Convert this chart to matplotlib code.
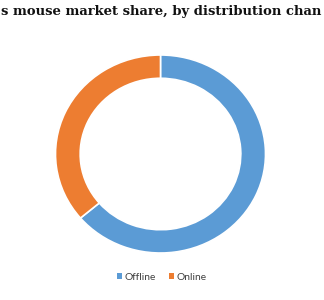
import matplotlib
matplotlib.use("Agg")
import matplotlib.pyplot as plt
from matplotlib.patches import Patch

categories = ["Offline", "Online"]
shares = [63.8, 36.2]
colors = ["#5B9BD5", "#ED7D31"]
title = "s mouse market share, by distribution chan"

W, H = 324, 300
fig = plt.figure(figsize=(W / 100, H / 100), dpi=100)

# donut axes (slightly wider than tall, as in the reference)
x0, x1 = 55.5, 265.5
ytop, ybot = 55, 253
ax = fig.add_axes([x0 / W, (H - ybot) / H, (x1 - x0) / W, (ybot - ytop) / H])
ax.pie(shares, colors=colors, startangle=90, counterclock=False, radius=1.0,
       wedgeprops=dict(width=0.235, edgecolor="white", linewidth=1.2))
ax.set_aspect("auto")
ax.set_xlim(-1, 1)
ax.set_ylim(-1, 1)
ax.axis("off")

# title: fit the visible title text to the figure width
fig.canvas.draw()
r = fig.canvas.get_renderer()
tfont = dict(family="DejaVu Serif", weight="heavy", color="#111111")
tmp = fig.text(0, 0, title, size=10, **tfont)
w10 = tmp.get_window_extent(r).width
tmp.remove()
tsize = 10 * 321 / w10
fig.text(161.5 / W, 1 - 15.5 / H, title, ha="center", va="baseline", size=tsize, **tfont)

handles = [Patch(facecolor=c, edgecolor="none") for c in colors]
fig.legend(handles, categories, loc="center", bbox_to_anchor=(162 / W, 1 - 277 / H),
           ncol=2, frameon=False, handlelength=0.45, handleheight=0.45,
           handletextpad=0.3, columnspacing=1.25,
           prop=dict(family="Lato", size=7.4), labelcolor="#404040")

fig.savefig("out.png", dpi=100)
